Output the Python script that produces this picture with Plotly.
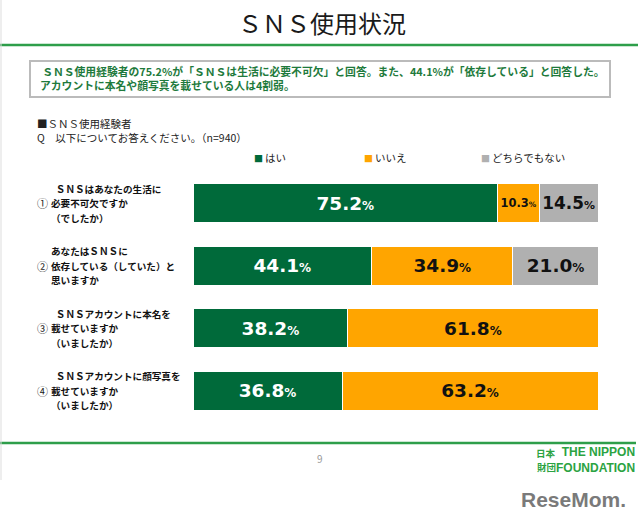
import plotly.graph_objects as go

# ---- data ----
QUESTIONS = ["q1", "q2", "q3", "q4"]
Q_NUMBERS = ["①", "②", "③", "④"]
Q_LABELS = [
    ["\u2002ＳＮＳはあなたの生活に", "必要不可欠ですか", "（でしたか）"],
    ["あなたはＳＮＳに", "依存している（していた）と", "思いますか"],
    ["\u2002ＳＮＳアカウントに本名を", "載せていますか", "（いましたか）"],
    ["\u2002ＳＮＳアカウントに顔写真を", "載せていますか", "（いましたか）"],
]
SERIES = ["はい", "いいえ", "どちらでもない"]
YES = [75.2, 44.1, 38.2, 36.8]
NO = [10.3, 34.9, 61.8, 63.2]
NEUTRAL = [14.5, 21.0, 0.0, 0.0]
COLORS = ["#006A3A", "#FFA500", "#B0B0B0"]
TEXT_COLORS = ["white", "#111111", "#111111"]

W, H = 640, 521
L, R, T, B = 193, 598, 172, 422
ROW_PX = (B - T) / len(QUESTIONS)


def px(x):
    return (x - L) / (R - L)


def py(y):
    return (B - y) / (B - T)


def fmt(v):
    if v <= 0:
        return ""
    return f"<b>{v:.1f}<span style='font-size:12px'>%</span></b>"


fig = go.Figure()
for name, vals, col, tcol in zip(SERIES, [YES, NO, NEUTRAL], COLORS, TEXT_COLORS):
    fig.add_trace(go.Bar(
        y=QUESTIONS, x=vals, name=name, orientation="h",
        marker=dict(color=col, line=dict(color="white", width=1)),
        text=[fmt(v) for v in vals], textposition="inside",
        insidetextanchor="middle", textangle=0,
        insidetextfont=dict(color=tcol, size=18.5, family="DejaVu Sans"),
        hoverinfo="skip", showlegend=False,
    ))

fig.update_layout(
    barmode="stack", bargap=0.376,
    width=W, height=H,
    margin=dict(l=L, r=W - R, t=T, b=H - B),
    plot_bgcolor="white", paper_bgcolor="white",
    font=dict(family="Noto Sans CJK JP", color="#222222"),
    xaxis=dict(range=[0, 100], visible=False, fixedrange=True),
    yaxis=dict(autorange="reversed", showticklabels=False, showgrid=False,
               zeroline=False, fixedrange=True),
)

ann = []
# title
ann.append(dict(text="ＳＮＳ使用状況", x=px(322), y=py(23), xref="paper", yref="paper",
                showarrow=False, xanchor="center", yanchor="middle",
                font=dict(size=24, color="#1a1a1a", family="Noto Sans CJK JP")))
# summary box text
ann.append(dict(text="<b>\u2009ＳＮＳ使用経験者の75.2%が「ＳＮＳは生活に必要不可欠」と回答。また、44.1%が「依存している」と回答した。</b><br>"
                     "<b>アカウントに本名や顔写真を載せている人は4割弱。</b>",
                x=px(39), y=py(78), xref="paper", yref="paper", showarrow=False,
                xanchor="left", yanchor="middle", align="left", borderpad=0,
                font=dict(size=10.8, color="#1E7A3C", family="Noto Sans CJK JP")))
# subtitle
ann.append(dict(text="■ＳＮＳ使用経験者", x=px(36), y=py(123), xref="paper", yref="paper",
                showarrow=False, xanchor="left", yanchor="middle", borderpad=0,
                font=dict(size=10.5, color="#222222")))
ann.append(dict(text="Q\u3000以下についてお答えください。（n=940）", x=px(36), y=py(137),
                xref="paper", yref="paper", showarrow=False, xanchor="left", yanchor="middle",
                borderpad=0, font=dict(size=10.5, color="#222222")))
# legend
for name, col, lx in zip(SERIES, COLORS, [253, 363, 480]):
    ann.append(dict(text=f"<span style='color:{col};font-size:9px'>■</span>\u2009{name}", x=px(lx), y=py(157),
                    xref="paper", yref="paper", showarrow=False, xanchor="left",
                    yanchor="middle", borderpad=0, font=dict(size=10.5, color="#222222")))
# category labels
line_off = 14.5 / ROW_PX
for i, (n, lines) in enumerate(zip(Q_NUMBERS, Q_LABELS)):
    ann.append(dict(text=n, x=px(36), y=i, xref="paper", yref="y", showarrow=False,
                    xanchor="left", yanchor="middle", borderpad=0,
                    font=dict(size=11, color="#222222")))
    for k, line in enumerate(lines):
        ann.append(dict(text=f"<b>{line}</b>", x=px(50), y=i + (k - 1) * line_off,
                        xref="paper", yref="y", showarrow=False, xanchor="left",
                        yanchor="middle", borderpad=0,
                        font=dict(size=9.6, color="#111111")))
# footer
ann.append(dict(text="9", x=px(320), y=py(458), xref="paper", yref="paper", showarrow=False,
                xanchor="center", yanchor="middle", font=dict(size=10, color="#999999")))
ann.append(dict(text="<b>日本</b>", x=px(557), y=py(453), xref="paper", yref="paper",
                showarrow=False, xanchor="right", yanchor="middle", borderpad=0,
                font=dict(size=9.5, color="#2BA342")))
ann.append(dict(text="<b>財団</b>", x=px(557), y=py(467), xref="paper", yref="paper",
                showarrow=False, xanchor="right", yanchor="middle", borderpad=0,
                font=dict(size=9.5, color="#2BA342")))
ann.append(dict(text="<b>THE NIPPON</b><br><b>FOUNDATION</b>", x=px(636), y=py(460),
                xref="paper", yref="paper", showarrow=False, xanchor="right",
                yanchor="middle", align="right", borderpad=0,
                font=dict(size=12, color="#2BA342", family="Liberation Sans")))
ann.append(dict(text="<b>ReseMom.</b>", x=px(628), y=py(499), xref="paper", yref="paper",
                showarrow=False, xanchor="right", yanchor="middle",
                font=dict(size=21, color="#7a7a7a", family="Liberation Sans Narrow, Liberation Sans")))
fig.update_layout(annotations=ann)

shapes = [
    dict(type="line", xref="paper", yref="paper", x0=px(0), x1=px(638), y0=py(45), y1=py(45),
         line=dict(color="#2E9E4A", width=2.5)),
    dict(type="rect", xref="paper", yref="paper", x0=px(30), x1=px(610), y0=py(97), y1=py(61),
         line=dict(color="#BBBBBB", width=2), fillcolor="rgba(0,0,0,0)"),
    dict(type="line", xref="paper", yref="paper", x0=px(0), x1=px(636), y0=py(443), y1=py(443),
         line=dict(color="#2E9E4A", width=2.5)),
    dict(type="line", xref="paper", yref="paper", x0=px(1), x1=px(1), y0=py(0), y1=py(480),
         line=dict(color="#DDDDDD", width=1)),
]
fig.update_layout(shapes=shapes)

fig.write_html("out.html", config={"displayModeBar": False},
               post_script="document.body.style.margin='0';document.body.style.padding='0';")
